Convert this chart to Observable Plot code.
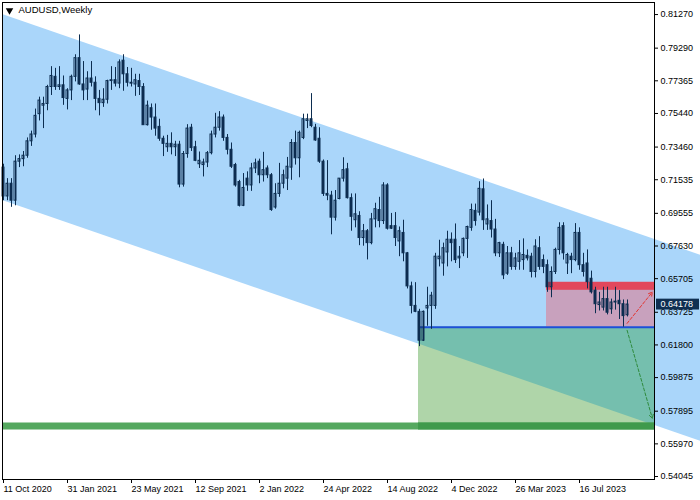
<!DOCTYPE html>
<html><head><meta charset="utf-8">
<script src="https://cdn.jsdelivr.net/npm/d3@7"></script>
<script src="https://cdn.jsdelivr.net/npm/@observablehq/plot@0.6"></script>
<style>body{margin:0;background:#fff}#chart svg{display:block}</style>
</head><body><div id="chart"></div>
<script>
// Weekly AUDUSD candles, week index 0 = 11 Oct 2020
const O = [.7225,.7055,.7130,.7030,.7260,.7275,.7295,.7380,.7420,.7540,
.7590,.7600,.7700,.7760,.7700,.7710,.7630,.7680,.7760,.7870,
.7715,.7685,.7750,.7725,.7630,.7605,.7625,.7735,.7740,.7720,
.7855,.7775,.7725,.7715,.7735,.7700,.7475,.7575,.7520,.7465,
.7395,.7345,.7365,.7345,.7360,.7125,.7305,.7460,.7345,.7245,
.7240,.7255,.7310,.7420,.7460,.7520,.7400,.7330,.7240,.7140,
.7000,.7160,.7120,.7220,.7260,.7180,.7220,.7180,.6990,.7070,
.7130,.7160,.7225,.7370,.7280,.7400,.7500,.7510,.7460,.7395,
.7260,.7070,.7060,.6930,.7040,.7160,.7215,.7045,.6915,.6940,
.6810,.6850,.6780,.6920,.6975,.6910,.7120,.6880,.6880,.6790,
.6840,.6720,.6525,.6410,.6375,.6205,.6395,.6410,.6410,.6685,
.6660,.6725,.6800,.6800,.6690,.6720,.6805,.6870,.6970,.6960,
.7097,.6890,.6910,.6860,.6720,.6770,.6600,.6720,.6640,.6670,
.6680,.6705,.6700,.6610,.6750,.6680,.6650,.6520,.6610,.6740,
.6880,.6660,.6700,.6680,.6840,.6650,.6660,.6570,.6500,.6415,
.6400,.6450,.6390,.6430,.6440,.6420,.6355];
const H = [.7245,.7160,.7160,.7295,.7300,.7320,.7400,.7440,.7570,.7640,
.7640,.7710,.7820,.7810,.7820,.7765,.7690,.7770,.7890,.8007,
.7850,.7790,.7850,.7760,.7680,.7690,.7740,.7820,.7815,.7860,
.7890,.7815,.7810,.7775,.7775,.7720,.7617,.7600,.7600,.7510,
.7410,.7415,.7430,.7380,.7380,.7320,.7478,.7480,.7380,.7317,
.7275,.7320,.7440,.7545,.7555,.7535,.7420,.7370,.7250,.7150,
.7190,.7200,.7250,.7275,.7275,.7315,.7235,.7190,.7130,.7250,
.7210,.7285,.7390,.7440,.7440,.7540,.7540,.7661,.7480,.7460,
.7270,.7266,.7085,.7090,.7160,.7283,.7250,.7070,.7070,.6965,
.6890,.6860,.6955,.7015,.7050,.7136,.7130,.6955,.6960,.6875,
.6915,.6725,.6550,.6547,.6390,.6380,.6520,.6490,.6720,.6797,
.6780,.6850,.6840,.6893,.6760,.6810,.6880,.7010,.7010,.7142,
.7158,.7005,.7030,.6920,.6785,.6785,.6760,.6755,.6720,.6795,
.6805,.6740,.6720,.6800,.6818,.6710,.6680,.6640,.6750,.6900,
.6900,.6720,.6720,.6895,.6870,.6720,.6740,.6615,.6520,.6490,
.6520,.6520,.6450,.6520,.6500,.6445,.6445];
const L = [.7030,.7030,.6991,.7000,.7225,.7230,.7280,.7350,.7400,.7500,
.7455,.7560,.7650,.7680,.7680,.7592,.7565,.7620,.7730,.7710,
.7620,.7620,.7700,.7560,.7530,.7580,.7600,.7680,.7700,.7690,
.7675,.7700,.7700,.7645,.7650,.7477,.7470,.7445,.7410,.7380,
.7290,.7315,.7300,.7290,.7106,.7110,.7280,.7320,.7260,.7220,
.7170,.7225,.7300,.7400,.7440,.7380,.7300,.7220,.7110,.6993,
.6995,.7085,.7085,.7190,.7130,.7140,.7160,.6967,.6980,.7050,
.7100,.7090,.7150,.7240,.7165,.7390,.7455,.7460,.7380,.7250,
.7055,.7030,.6829,.6910,.7035,.7140,.7040,.6850,.6870,.6765,
.6762,.6681,.6770,.6870,.6870,.6890,.6857,.6860,.6760,.6700,
.6670,.6510,.6363,.6370,.6170,.6200,.6290,.6272,.6390,.6640,
.6585,.6640,.6670,.6660,.6630,.6700,.6690,.6850,.6880,.6940,
.6855,.6855,.6810,.6700,.6695,.6565,.6590,.6620,.6620,.6620,
.6620,.6675,.6575,.6575,.6620,.6600,.6490,.6458,.6595,.6710,
.6680,.6595,.6600,.6670,.6620,.6580,.6510,.6480,.6364,.6380,
.6380,.6357,.6360,.6385,.6330,.6285,.6345];
const C = [.7055,.7130,.7030,.7260,.7275,.7295,.7380,.7420,.7530,.7620,
.7600,.7700,.7765,.7700,.7710,.7635,.7680,.7760,.7870,.7715,
.7680,.7750,.7725,.7630,.7605,.7625,.7735,.7740,.7720,.7845,
.7775,.7725,.7720,.7740,.7700,.7475,.7590,.7520,.7455,.7395,
.7365,.7365,.7345,.7360,.7125,.7305,.7455,.7340,.7265,.7265,
.7255,.7310,.7420,.7460,.7520,.7400,.7330,.7230,.7120,.7000,
.7105,.7120,.7220,.7250,.7180,.7210,.7180,.6975,.7070,.7130,
.7180,.7230,.7370,.7280,.7430,.7510,.7510,.7470,.7385,.7260,
.7070,.7060,.6930,.7030,.7160,.7210,.7045,.6935,.6950,.6810,
.6850,.6780,.6920,.6980,.6910,.7120,.6865,.6865,.6810,.6850,
.6720,.6525,.6410,.6375,.6205,.6375,.6410,.6470,.6700,.6700,
.6750,.6800,.6780,.6680,.6700,.6805,.6875,.6975,.6910,.7100,
.6915,.6920,.6860,.6720,.6780,.6590,.6720,.6640,.6690,.6720,
.6710,.6690,.6610,.6760,.6640,.6640,.6520,.6610,.6740,.6870,
.6720,.6710,.6680,.6840,.6650,.6610,.6550,.6490,.6420,.6430,
.6450,.6370,.6430,.6435,.6420,.6350,.64178];

const tickWeeks = [0,16,32,48,64,80,96,112,128,144];
const dateLabels = ["11 Oct 2020","31 Jan 2021","23 May 2021","12 Sep 2021","2 Jan 2022",
  "24 Apr 2022","14 Aug 2022","4 Dec 2022","26 Mar 2023","16 Jul 2023"];
const priceTicks = [0.81270,0.79290,0.77365,0.75440,0.73460,0.71535,0.69555,0.67630,
  0.65705,0.63725,0.61800,0.59875,0.57895,0.55970,0.54045];

// drawing objects (anchors in week index / price)
const channelWeeks = [-0.25, 174.25];
const channelUpper = [0.8127, 0.6708];
const channelLower = [0.7031, 0.5612];
const blueLevel = 0.6284;
const greenLevel = 0.5702;
const greenZoneWeeks = [103.75, 162.75];
const redZoneWeeks = [135.75, 162.75];
const redZoneTop = 0.6549;
const redBandBottom = 0.6502;
const redArrow = [{x1:155.9, y1:0.6307, x2:162.2, y2:0.6491}];
const greenArrow = [{x1:155.9, y1:0.6266, x2:162.2, y2:0.5748}];
const lastPrice = 0.64178;

const candles = O.map((o,i) => ({i, o, h:H[i], l:L[i], c:C[i]}));
const xDomain = [-0.25, 162.75];
const yDomain = [0.5387, 0.8198];

const lowerAt = w => channelLower[0] + (channelLower[1]-channelLower[0])*(w-channelWeeks[0])/(channelWeeks[1]-channelWeeks[0]);
const channel = channelWeeks.map((w,k) => ({x:w, y1:channelLower[k], y2:channelUpper[k]}));
const tealPoly = greenZoneWeeks.map(w => ({x:w, y1:Math.max(lowerAt(w), greenLevel), y2:blueLevel}));

const navy = "#0c2d50";
const chart = Plot.plot({
  width: 700, height: 500,
  marginLeft: 2, marginRight: 46, marginTop: 2, marginBottom: 21,
  x: {domain: xDomain},
  y: {domain: yDomain},
  style: {fontFamily: "Liberation Sans, Arial, sans-serif", fontSize: "9px", background: "#ffffff", color: "#000"},
  marks: [
    Plot.areaY(channel, {x:"x", y1:"y1", y2:"y2", fill:"#aad6fa", curve:"linear"}),
    Plot.rect([0], {x1:()=>greenZoneWeeks[0], x2:()=>greenZoneWeeks[1], y1:()=>greenLevel, y2:()=>blueLevel, fill:"#afd5a9"}),
    Plot.areaY(tealPoly, {x:"x", y1:"y1", y2:"y2", fill:"#75bfae", curve:"linear"}),
    Plot.rect([0], {x1:()=>redZoneWeeks[0], x2:()=>redZoneWeeks[1], y1:()=>blueLevel, y2:()=>redZoneTop, fill:"#c8a1bd"}),
    Plot.rect([0], {x1:()=>redZoneWeeks[0], x2:()=>redZoneWeeks[1], y1:()=>redBandBottom, y2:()=>redZoneTop, fill:"#e2475c"}),
    Plot.ruleY([greenLevel], {y:d=>d, stroke:"#55a85f", strokeWidth:7}),
    Plot.ruleY([greenLevel], {y:d=>d, x1:()=>greenZoneWeeks[0], x2:()=>greenZoneWeeks[1], stroke:"#3f9a4c", strokeWidth:7}),
    Plot.ruleY([blueLevel], {y:d=>d, x1:()=>greenZoneWeeks[0], x2:()=>greenZoneWeeks[1], stroke:"#1d4fd8", strokeWidth:2}),
    Plot.ruleX(candles, {x:"i", y1:"l", y2:"h", stroke:navy, strokeWidth:1}),
    Plot.rect(candles.filter(d=>d.c<d.o), {x1:d=>d.i-0.25, x2:d=>d.i+0.25, y1:"o", y2:"c", fill:navy, stroke:navy, strokeWidth:1}),
    Plot.rect(candles.filter(d=>d.c>=d.o), {x1:d=>d.i-0.25, x2:d=>d.i+0.25, y1:"o", y2:"c", fill:"none", stroke:navy, strokeWidth:1}),
    Plot.arrow(redArrow, {x1:"x1", y1:"y1", x2:"x2", y2:"y2", stroke:"#e3342f", strokeDasharray:"3,2", headLength:6, strokeWidth:1}),
    Plot.arrow(greenArrow, {x1:"x1", y1:"y1", x2:"x2", y2:"y2", stroke:"#2e8a3c", strokeDasharray:"3,2", headLength:6, strokeWidth:1}),
    Plot.frame({stroke:"#000"}),
    Plot.axisX({ticks: tickWeeks, tickFormat: d => dateLabels[tickWeeks.indexOf(d)], tickSize:4, tickPadding:2, textAnchor:"start", label:null, fill:"#000"}),
    Plot.axisY({anchor:"right", ticks: priceTicks, tickFormat: d => d.toFixed(5), tickSize:3, tickPadding:3, label:null, fill:"#000"}),
    Plot.rect([lastPrice], {x1:()=>xDomain[1]+0.5, x2:()=>xDomain[1]+11.25, y1:d=>d-0.0032, y2:d=>d+0.0032, fill:"#0f2f52"}),
    Plot.text([lastPrice], {y:d=>d, text:d=>d.toFixed(5), frameAnchor:"right", dx:6, textAnchor:"start", fill:"#fff"}),
    Plot.dot([0], {frameAnchor:"top-left", dx:7, dy:8, symbol:"triangle", r:2.8, rotate:180, fill:"#000", stroke:"none"}),
    Plot.text(["AUDUSD,Weekly"], {text:d=>d, frameAnchor:"top-left", dx:16, dy:4, textAnchor:"start", lineAnchor:"top", fontSize:9.5, fill:"#000"})
  ]
});
document.getElementById("chart").appendChild(chart);
</script></body></html>
